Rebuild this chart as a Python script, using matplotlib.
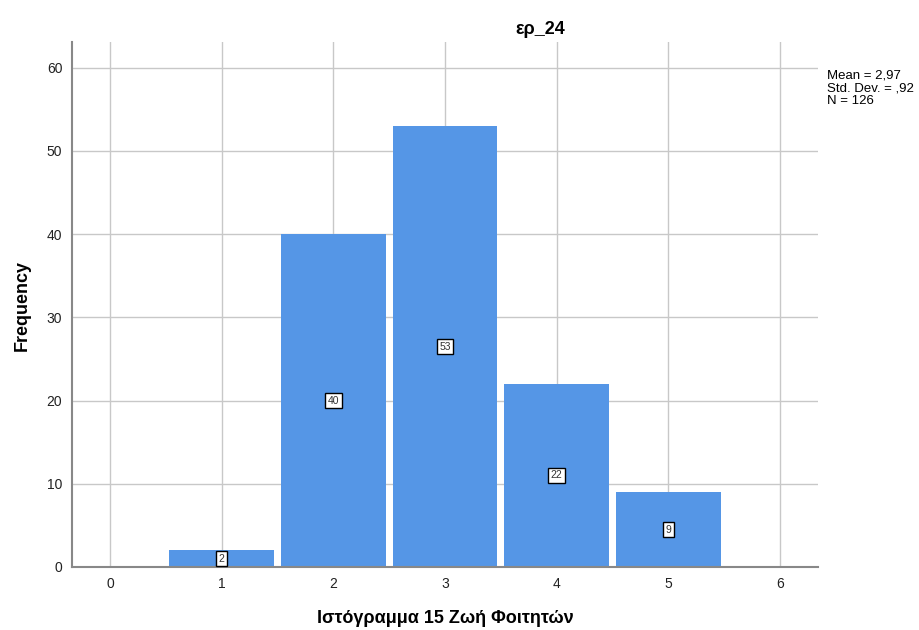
import matplotlib
matplotlib.use("Agg")
import matplotlib.pyplot as plt

plt.rcParams['font.family'] = ['Liberation Sans', 'DejaVu Sans']

# Данные гистограммы
values = [1, 2, 3, 4, 5]
counts = [2, 40, 53, 22, 9]
x_ticks = [0, 1, 2, 3, 4, 5, 6]
y_ticks = [0, 10, 20, 30, 40, 50, 60]
stats_text = "Mean = 2,97\nStd. Dev. = ,92\nN = 126"

fig = plt.figure(figsize=(9.2, 6.3), dpi=100)
ax = fig.add_axes([72 / 920, 63 / 630, 746 / 920, 525 / 630])

ax.set_axisbelow(True)
ax.grid(True, color='#c8c8c8', linewidth=1)
ax.bar(values, counts, width=0.94, color='#5596e6', edgecolor='none')

for v, c in zip(values, counts):
    ax.text(v, c / 2, str(c), ha='center', va='center', fontsize=7.5, color='#333333',
            bbox=dict(boxstyle='square,pad=0.25', facecolor='white', edgecolor='black', linewidth=1))

ax.set_xlim(-0.34, 6.34)
ax.set_ylim(0, 63.1)
ax.set_xticks(x_ticks)
ax.set_yticks(y_ticks)
ax.tick_params(length=0, labelsize=10, pad=7, colors='#222222')
for s in ['top', 'right']:
    ax.spines[s].set_visible(False)
for s in ['left', 'bottom']:
    ax.spines[s].set_color('#888888')
    ax.spines[s].set_linewidth(1.5)

ax.set_xlabel("Ιστόγραμμα 15 Ζωή Φοιτητών", fontsize=13, fontweight='bold', labelpad=14)
fig.text(22 / 920, 1 - 305 / 630, "Frequency", fontsize=13, fontweight='bold',
         rotation=90, ha='center', va='center')
fig.text(540 / 920, 1 - 30 / 630, "ερ_24", fontsize=13, fontweight='bold', ha='center', va='center')
fig.text(827 / 920, 1 - 70 / 630, stats_text, fontsize=9.5, ha='left', va='top', linespacing=1.05)

fig.savefig("out.png", dpi=100)
